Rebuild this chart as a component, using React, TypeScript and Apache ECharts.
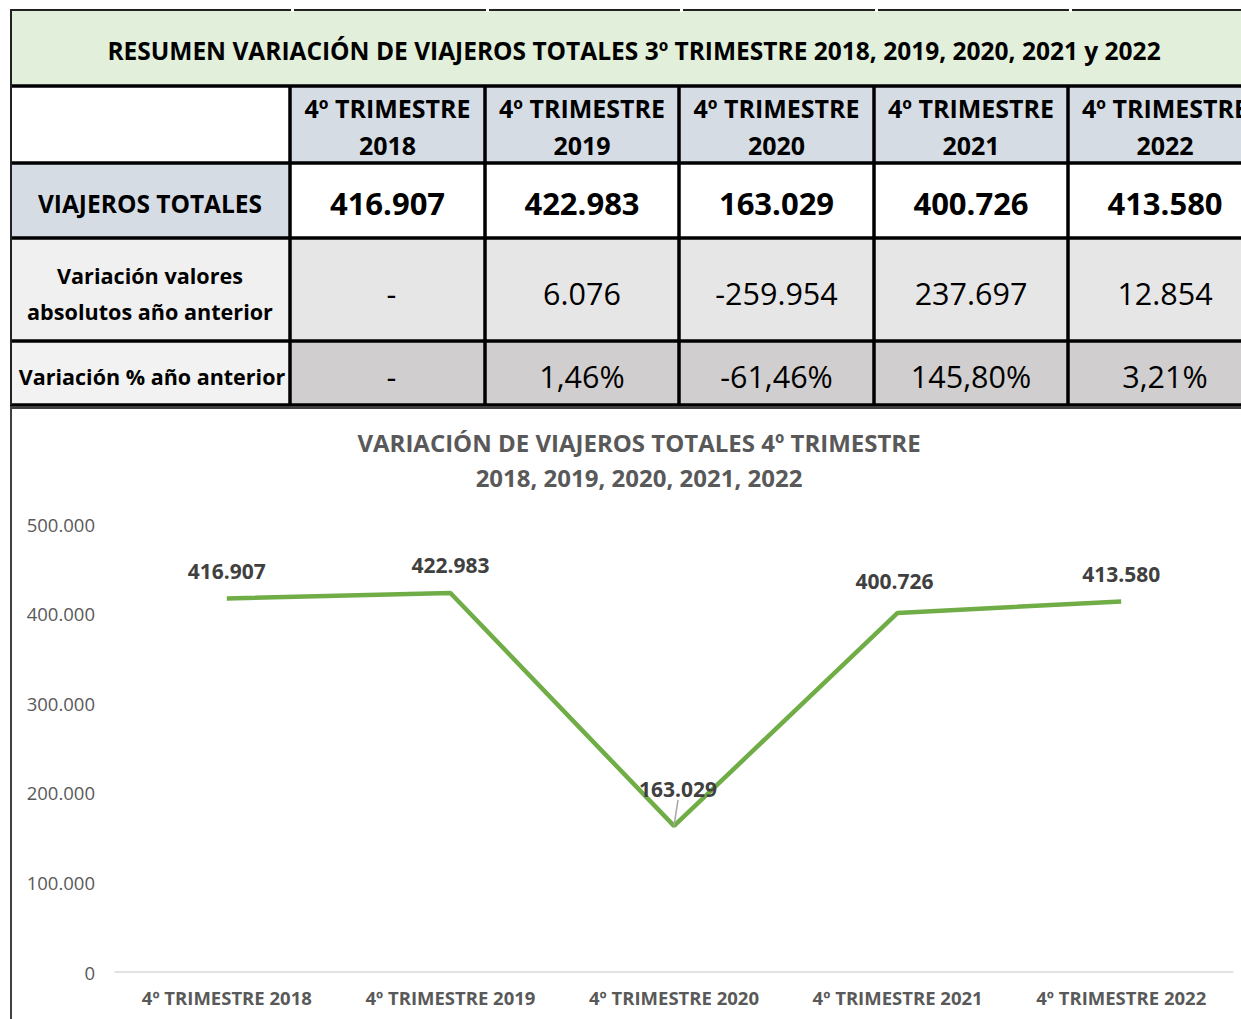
import React, { useEffect, useRef } from "react";
import * as echarts from "echarts";

const categories = [
  "4º TRIMESTRE 2018",
  "4º TRIMESTRE 2019",
  "4º TRIMESTRE 2020",
  "4º TRIMESTRE 2021",
  "4º TRIMESTRE 2022",
];
const headerYears = ["2018", "2019", "2020", "2021", "2022"];
const totals = [416907, 422983, 163029, 400726, 413580];
const absVariation = ["-", "6.076", "-259.954", "237.697", "12.854"];
const pctVariation = ["-", "1,46%", "-61,46%", "145,80%", "3,21%"];
const rowLabels = [
  "VIAJEROS TOTALES",
  "Variación valores\nabsolutos año anterior",
  "Variación % año anterior",
];
const tableTitle =
  "RESUMEN VARIACIÓN DE VIAJEROS TOTALES 3º TRIMESTRE 2018, 2019, 2020, 2021 y 2022";
const chartTitle =
  "VARIACIÓN DE VIAJEROS TOTALES 4º TRIMESTRE\n2018, 2019, 2020, 2021, 2022";

const FONT = "'Open Sans', 'Noto Sans', sans-serif";

function fmt(n: number): string {
  return String(Math.round(n)).replace(/\B(?=(\d{3})+(?!\d))/g, ".");
}

function buildTable(): any[] {
  const colX = [10, 290, 485, 679, 874, 1068, 1262];
  const rowY = [10, 86, 163, 238, 341, 405];
  const els: any[] = [];
  const rect = (x: number, y: number, w: number, h: number, fill: string) =>
    els.push({ type: "rect", shape: { x, y, width: w, height: h }, style: { fill }, silent: true });
  const text = (
    x: number,
    y: number,
    t: string,
    size: number,
    weight: string,
    lh?: number
  ) =>
    els.push({
      type: "text",
      x,
      y,
      silent: true,
      style: {
        text: t,
        fill: "#000",
        font: `${weight} ${size}px ${FONT}`,
        align: "center",
        verticalAlign: "middle",
        lineHeight: lh || size * 1.2,
      },
    });
  rect(colX[0], rowY[0], colX[6] - colX[0], rowY[1] - rowY[0], "#E2EFDA");
  rect(colX[0], rowY[1], colX[1] - colX[0], rowY[2] - rowY[1], "#FFFFFF");
  rect(colX[1], rowY[1], colX[6] - colX[1], rowY[2] - rowY[1], "#D6DCE4");
  rect(colX[0], rowY[2], colX[1] - colX[0], rowY[3] - rowY[2], "#D6DCE4");
  rect(colX[1], rowY[2], colX[6] - colX[1], rowY[3] - rowY[2], "#FFFFFF");
  rect(colX[0], rowY[3], colX[1] - colX[0], rowY[4] - rowY[3], "#F0F0F0");
  rect(colX[1], rowY[3], colX[6] - colX[1], rowY[4] - rowY[3], "#E7E6E6");
  rect(colX[0], rowY[4], colX[1] - colX[0], rowY[5] - rowY[4], "#F2F2F2");
  rect(colX[1], rowY[4], colX[6] - colX[1], rowY[5] - rowY[4], "#D0CECE");

  const line = (x1: number, y1: number, x2: number, y2: number, w: number, c = "#000") =>
    els.push({
      type: "line",
      silent: true,
      shape: { x1, y1, x2, y2 },
      style: { stroke: c, lineWidth: w },
    });
  line(colX[0], rowY[0], 1241, rowY[0], 2, "#222");
  for (let i = 1; i < 6; i++) {
    els.push({
      type: "rect",
      silent: true,
      shape: { x: colX[i] + 1, y: rowY[0] - 2, width: 3, height: 4 },
      style: { fill: "#FFFFFF" },
    });
  }
  for (let r = 1; r < rowY.length; r++) line(colX[0], rowY[r], 1241, rowY[r], 3.5);
  line(colX[0] + 1, rowY[0], colX[0] + 1, rowY[5], 2, "#222");
  for (let c = 1; c < 6; c++) line(colX[c], rowY[1], colX[c], rowY[5], 3.5);

  text(634, 50, tableTitle, 24.5, "bold");
  for (let c = 0; c < 5; c++) {
    const cx = (colX[c + 1] + colX[c + 2]) / 2;
    text(cx, 126, "4º TRIMESTRE\n" + headerYears[c], 25, "bold", 37);
    text(cx, 203, fmt(totals[c]), 31, "bold");
    text(cx + (absVariation[c] === "-" ? 4 : 0), 293, absVariation[c], 30.5, "normal");
    text(cx + (pctVariation[c] === "-" ? 4 : 0), 376, pctVariation[c], 30.5, "normal");
  }
  const lx = (colX[0] + colX[1]) / 2;
  text(lx, 203, rowLabels[0], 24.5, "bold");
  text(lx, 293, rowLabels[1], 21.6, "bold", 36);
  text(lx + 2, 376, rowLabels[2], 21.5, "bold");

  els.push({
    type: "rect",
    silent: true,
    shape: { x: 11, y: 408, width: 1260, height: 640 },
    style: { fill: "none", stroke: "#404040", lineWidth: 2 },
  });
  return els;
}

export default function App() {
  const ref = useRef<HTMLDivElement>(null);
  useEffect(() => {
    if (!ref.current) return;
    const chart = echarts.init(ref.current, undefined, { renderer: "svg" });
    const seriesData = totals.map((v, i) => ({
      value: v,
      labelLine: { show: i === 2 },
    }));
    chart.setOption({
      animation: false,
      backgroundColor: "#FFFFFF",
      title: {
        text: chartTitle,
        left: 634,
        textAlign: "center",
        top: 420,
        textStyle: {
          fontFamily: FONT,
          fontSize: 24,
          fontWeight: "bold",
          color: "#595959",
          lineHeight: 35,
        },
      },
      grid: { left: 115, right: 8, top: 524, bottom: 47, containLabel: false },
      xAxis: {
        type: "category",
        data: categories,
        boundaryGap: true,
        axisLine: { show: true, lineStyle: { color: "#D9D9D9", width: 1.5 } },
        axisTick: { show: false },
        axisLabel: {
          margin: 16,
          fontFamily: FONT,
          fontSize: 18.5,
          fontWeight: "bold",
          color: "#595959",
          interval: 0,
        },
      },
      yAxis: {
        type: "value",
        min: 0,
        max: 500000,
        interval: 100000,
        splitLine: { show: false },
        axisLine: { show: false },
        axisTick: { show: false },
        axisLabel: {
          margin: 20,
          fontFamily: FONT,
          fontSize: 18.5,
          color: "#595959",
          formatter: (v: number) => fmt(v),
        },
      },
      series: [
        {
          type: "line",
          data: seriesData,
          symbol: "circle",
          symbolSize: 0.1,
          showSymbol: true,
          lineStyle: { color: "#70AD47", width: 4.5 },
          itemStyle: { color: "#70AD47" },
          label: {
            show: true,
            position: "top",
            distance: 17,
            fontFamily: FONT,
            fontSize: 21,
            fontWeight: "bold",
            color: "#404040",
            formatter: (p: any) => fmt(p.value),
          },
          labelLine: { show: false, lineStyle: { color: "#A6A6A6", width: 1.5 } },
          labelLayout: (p: any) =>
            p.dataIndex === 2
              ? { dx: 4, dy: -9 }
              : p.dataIndex === 3
              ? { dx: -3, dy: -4 }
              : {},
          z: 3,
        },
      ],
      graphic: buildTable(),
    });
    return () => chart.dispose();
  }, []);
  return (
    <div
      ref={ref}
      style={{ position: "fixed", left: 0, top: 0, width: 1241, height: 1019 }}
    />
  );
}
